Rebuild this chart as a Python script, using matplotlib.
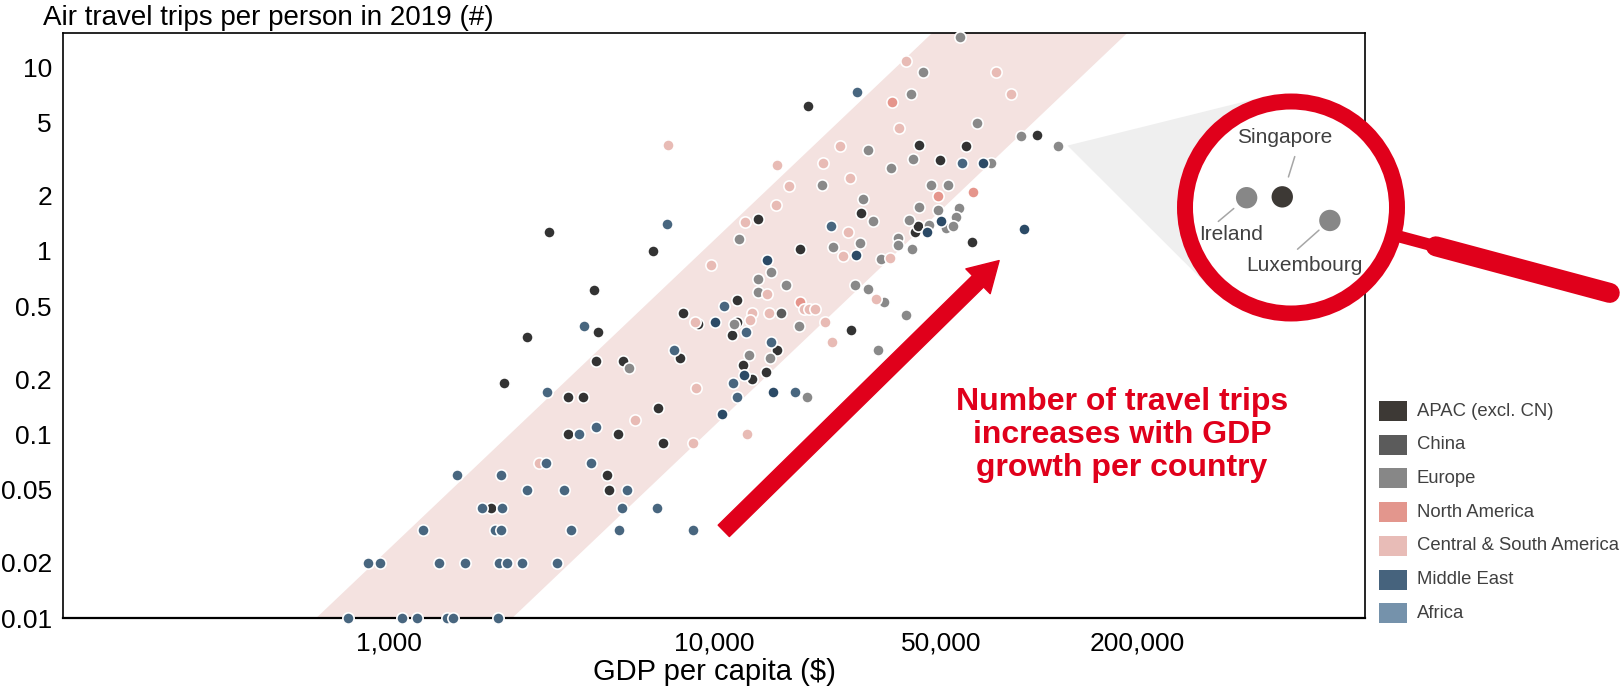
import numpy as np
import matplotlib.pyplot as plt
from matplotlib.patches import Polygon, Circle, Rectangle
from matplotlib.lines import Line2D
from matplotlib.transforms import IdentityTransform

plt.rcParams['font.family'] = ['Liberation Sans', 'DejaVu Sans']

# --- data ---
regions = ['APAC (excl. CN)', 'China', 'Europe', 'North America',
           'Central & South America', 'Middle East', 'Africa']
legend_colors = ['#3d3935', '#5b5b5b', '#878787', '#e3968d', '#e8bcb7', '#46637d', '#7592ab']
point_colors = ['#333333', '#5b5b5b', '#898989', '#e5958c', '#e8bbb5', '#2b4a66', '#48667f']

apac_gdp = [2065, 4757, 4678, 6986, 3567, 5082, 6715, 3551, 3959, 2270, 14450, 13060, 12300,
            4340, 5250, 7863, 15600, 2658, 4390, 11380, 26300, 3112, 19490, 98000, 42750,
            59450, 49470, 13690, 28290, 41400, 42370, 62170, 18370, 6508, 4270, 8030, 8960,
            11800, 11800]
apac_trips = [0.04, 0.05, 0.06, 0.09, 0.1, 0.1, 0.14, 0.16, 0.16, 0.19, 0.22, 0.2, 0.24,
              0.25, 0.25, 0.26, 0.29, 0.34, 0.36, 0.35, 0.37, 1.27, 6.2, 4.27, 3.8,
              3.75, 3.14, 1.49, 1.6, 1.27, 1.37, 1.12, 1.02, 1.0, 0.61, 0.46, 0.4,
              0.54, 0.41]

china_gdp = [16060]
china_trips = [0.46]

europe_gdp = [5500, 14870, 12820, 19270, 31840, 57000, 43960, 40200, 64400, 87750, 113600,
              29650, 40740, 70800, 34900, 21510, 46310, 52480, 28700, 42650, 48640, 56540,
              55560, 30810, 39800, 51620, 45750, 54060, 36860, 36860, 40590, 32520, 23130,
              28150, 11910, 14960, 13690, 13690, 16650, 27170, 29800, 11500, 18230, 38800,
              33190]
europe_trips = [0.23, 0.26, 0.27, 0.16, 0.29, 14.6, 9.45, 7.2, 5.0, 4.25, 3.75,
                3.55, 3.15, 3.02, 2.82, 2.28, 2.28, 2.29, 1.93, 1.74, 1.68, 1.72,
                1.53, 1.46, 1.48, 1.33, 1.38, 1.37, 1.18, 1.08, 1.02, 0.9, 1.05,
                1.1, 1.16, 0.77, 0.7, 0.6, 0.65, 0.65, 0.62, 0.4, 0.39, 0.45,
                0.53]

namerica_gdp = [35300, 62660, 48880, 18370]
namerica_trips = [6.5, 2.09, 1.99, 0.53]

csamerica_gdp = [2900, 8630, 12600, 5716, 8786, 22990, 38900, 73500, 81700, 37030, 7240,
                 24430, 15620, 21570, 26230, 17040, 15470, 12450, 34810, 25800, 24900, 9770,
                 14580, 8726, 13060, 12870, 14710, 18940, 19530, 20500, 21870, 31450]
csamerica_trips = [0.07, 0.09, 0.1, 0.12, 0.18, 0.32, 10.9, 9.4, 7.2, 4.7, 3.78,
                   3.75, 2.94, 3.0, 2.49, 2.26, 1.78, 1.43, 0.91, 1.27, 0.935, 0.84,
                   0.58, 0.41, 0.46, 0.42, 0.46, 0.48, 0.48, 0.48, 0.41, 0.55]

mideast_gdp = [15140, 10560, 12370, 66920, 49740, 45000, 89800, 27310, 14520, 10050]
mideast_trips = [0.17, 0.13, 0.21, 3.0, 1.46, 1.27, 1.31, 0.95, 0.89, 0.41]

africa_gdp = [752, 1098, 1221, 1509, 1581, 2175, 867, 942, 1430, 1718, 2185, 2317, 2565, 3287,
              1279, 2124, 2216, 3637, 5117, 8602, 1933, 2228, 5204, 6668, 2658, 3468, 5391,
              1620, 2221, 3040, 4181, 3848, 4341, 11740, 3063, 17740, 11460, 7534, 14950,
              12500, 27560, 57700, 22860, 7155, 3997, 10730]
africa_trips = [0.01, 0.01, 0.01, 0.01, 0.01, 0.01, 0.02, 0.02, 0.02, 0.02, 0.02, 0.02, 0.02, 0.02,
                0.03, 0.03, 0.03, 0.03, 0.03, 0.03, 0.04, 0.04, 0.04, 0.04, 0.05, 0.05, 0.05,
                0.06, 0.06, 0.07, 0.07, 0.1, 0.11, 0.16, 0.17, 0.17, 0.19, 0.29, 0.32,
                0.36, 7.33, 3.0, 1.37, 1.41, 0.39, 0.5]

series_gdp = [apac_gdp, china_gdp, europe_gdp, namerica_gdp, csamerica_gdp, mideast_gdp, africa_gdp]
series_trips = [apac_trips, china_trips, europe_trips, namerica_trips, csamerica_trips,
                mideast_trips, africa_trips]

# countries shown in the magnifier
hl_names = ['Singapore', 'Ireland', 'Luxembourg']
hl_gdp = [98000, 87750, 113600]
hl_trips = [4.27, 4.25, 3.75]
hl_colors = ['#3d3935', '#878787', '#878787']

# trend band: GDP of left / right edge at bottom and top of the axis
band_left_gdp = [600, 46800]
band_right_gdp = [2400, 186000]

x_ticks = [1000, 10000, 50000, 200000]
x_labels = ['1,000', '10,000', '50,000', '200,000']
y_ticks = [0.01, 0.02, 0.05, 0.1, 0.2, 0.5, 1, 2, 5, 10]
y_labels = ['0.01', '0.02', '0.05', '0.1', '0.2', '0.5', '1', '2', '5', '10']

# --- layout ---
W, H = 1621, 689
RED = '#e0001b'
TXT = '#404040'
YMIN, YMAX = 0.01, 15.4

fig = plt.figure(figsize=(W / 100, H / 100), dpi=100)
ax = fig.add_axes([63 / W, 1 - 618 / H, (1365 - 63) / W, (618 - 33) / H])
ax.set_xscale('log')
ax.set_yscale('log')
ax.set_xlim(100, 1e6)
ax.set_ylim(YMIN, YMAX)
ax.minorticks_off()
ax.set_xticks(x_ticks)
ax.set_xticklabels(x_labels)
ax.set_yticks(y_ticks)
ax.set_yticklabels(y_labels)
ax.tick_params(axis='both', length=0, labelsize=19, colors='black')
ax.tick_params(axis='x', pad=10)
ax.tick_params(axis='y', pad=8)
for s in ax.spines.values():
    s.set_linewidth(1.2)
    s.set_color('black')
ax.spines['bottom'].set_linewidth(1.6)

ax.set_xlabel('GDP per capita ($)', fontsize=21, va='center')
ax.xaxis.set_label_coords(0.5, -(672 - 618) / 585)

# band
band = Polygon([(band_left_gdp[0], YMIN), (band_left_gdp[1], YMAX),
                (band_right_gdp[1], YMAX), (band_right_gdp[0], YMIN)],
               closed=True, facecolor='#f4e2e0', edgecolor='none', zorder=0)
ax.add_patch(band)

# points
for gx, ty, col in zip(series_gdp, series_trips, point_colors):
    ax.scatter(gx, ty, s=66, color=col, edgecolors='white', linewidths=1.2,
               zorder=3, clip_on=False)

# big arrow + message
ax.annotate('', xy=(0.719, 0.611), xytext=(0.5075, 0.149),
            xycoords='axes fraction', textcoords='axes fraction',
            arrowprops=dict(arrowstyle='simple,head_length=2.13,head_width=2.5,tail_width=1.15',
                            color=RED, shrinkA=0, shrinkB=0, mutation_scale=10))
fig.text(1122 / W, 1 - 435 / H, 'Number of travel trips\nincreases with GDP\ngrowth per country',
         ha='center', va='center', fontsize=23, fontweight='bold', color=RED, linespacing=1.15)

# title
fig.text(43 / W, 1 - 25 / H, 'Air travel trips per person in 2019 (#)', fontsize=20,
         va='baseline', ha='left')

# legend
for i, (name, col) in enumerate(zip(regions, legend_colors)):
    yc = 411 + 33.7 * i
    fig.add_artist(Rectangle((1379, H - yc - 10), 28, 20, facecolor=col, edgecolor='none',
                             transform=IdentityTransform()))
    fig.text(1417 / W, 1 - yc / H, name, fontsize=13.3, color=TXT, va='center', ha='left')

# --- magnifier ---
cx, cy = 1291, H - 207.5
R_OUT = 114
lux = ax.transData.transform((hl_gdp[2], hl_trips[2]))
apex = np.array([lux[0] + 10, lux[1]])
v = np.array([cx, cy]) - apex
d = np.hypot(*v)
ang = np.arctan2(v[1], v[0])
alpha = np.arcsin(R_OUT / d)
L = np.sqrt(d ** 2 - R_OUT ** 2)
t1 = apex + L * np.array([np.cos(ang + alpha), np.sin(ang + alpha)])
t2 = apex + L * np.array([np.cos(ang - alpha), np.sin(ang - alpha)])
fig.add_artist(Polygon([apex, t1, (cx, cy), t2], closed=True, facecolor='#efefef',
                       edgecolor='none', transform=IdentityTransform(), zorder=2))

th = np.deg2rad(-15)
u = np.array([np.cos(th), np.sin(th)])
c = np.array([cx, cy])
p0, p1 = c + 100 * u, c + 152 * u
fig.add_artist(Line2D([p0[0], p1[0]], [p0[1], p1[1]], color=RED, lw=8.6,
                      solid_capstyle='butt', transform=IdentityTransform(), zorder=3))
p2, p3 = c + 150 * u, c + 330 * u
fig.add_artist(Line2D([p2[0], p3[0]], [p2[1], p3[1]], color=RED, lw=14.4,
                      solid_capstyle='round', transform=IdentityTransform(), zorder=3))
fig.add_artist(Circle((cx, cy), 106, facecolor='white', edgecolor=RED, lw=11.5,
                      transform=IdentityTransform(), zorder=3))

ins = fig.add_axes([(1291 - 98) / W, (cy - 98) / H, 196 / W, 196 / H], zorder=5)
ins.set_xscale('log')
ins.set_yscale('log')
ins.set_xlim(10 ** 4.871, 10 ** 5.135)
ins.set_ylim(10 ** 0.371, 10 ** 0.839)
ins.axis('off')
ins.scatter(hl_gdp, hl_trips, s=237, color=hl_colors, edgecolors='none', zorder=3)

text_off = [(1.9, 42.5), (-11.3, -26.6), (-18, -32.2)]
lead_far = [(9, 29), (-20.4, -17.1), (-23.3, -20.7)]
lead_gap = [15, 12.1, 10.5]
for name, gx, ty, to, lf, lg in zip(hl_names, hl_gdp, hl_trips, text_off, lead_far, lead_gap):
    ins.annotate('', xy=(gx, ty), xytext=lf, textcoords='offset points',
                 arrowprops=dict(arrowstyle='-', color='#a6a6a6', lw=1.1,
                                 shrinkA=0, shrinkB=lg))
    ins.annotate(name, xy=(gx, ty), xytext=to, textcoords='offset points',
                 ha='center', va='center', fontsize=15, color=TXT)

fig.savefig('out.png', dpi=100)
